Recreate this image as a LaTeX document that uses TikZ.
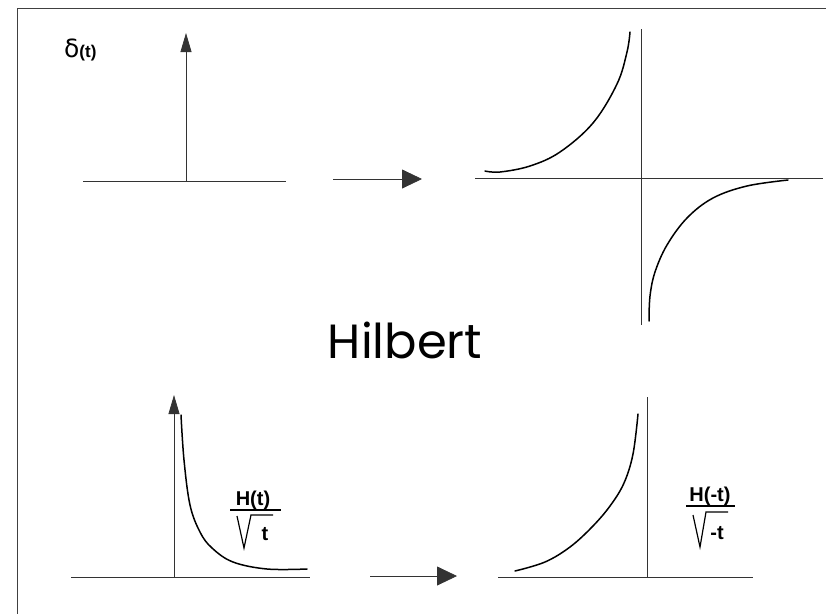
\documentclass[tikz,border=0pt]{standalone}
\usepackage{fontspec}
\setmainfont{Liberation Sans}
\newfontfamily\titlefont{Poppins}
\newfontfamily\greekfont{DejaVu Sans}
\usetikzlibrary{arrows.meta}
\tikzset{
  axisline/.style={draw=black!80, line width=0.8pt},
  curveline/.style={draw=black, line width=1.5pt, line cap=round},
  framelin/.style={draw=black!75, line width=0.9pt},
  uparrow/.style={axisline, -{Triangle[length=19pt,width=11pt]}},
  maparrow/.style={axisline, -{Triangle[length=20pt,width=19pt]}},
  lbl/.style={font=\bfseries\fontsize{20}{22}\selectfont, inner sep=0pt},
  radical/.style={draw=black, line width=1.2pt, line join=miter},
}
\begin{document}
\begin{tikzpicture}[x=1pt,y=-1pt]
\useasboundingbox (0,0) rectangle (826,614);
% frame
\coordinate (fTL) at (17,8);
\coordinate (fTR) at (826,8);
\coordinate (fBL) at (17,614);
\draw[framelin] (fTR) -- (fTL) -- (fBL);

% ---------- top left: delta ----------
\coordinate (d0) at (83,181);
\coordinate (d1) at (286,181);
\coordinate (dA) at (186,181);
\coordinate (dT) at (186,33);
\draw[axisline] (d0) -- (d1);
\draw[uparrow] (dA) -- (dT);
\node[anchor=base west, inner sep=0pt] (dlab) at (64,57)
  {{\greekfont\fontsize{25}{26}\selectfont δ}{\bfseries\fontsize{17}{18}\selectfont (t)}};

% ---------- top arrow ----------
\coordinate (m0) at (333,179);
\coordinate (m1) at (422,179);
\draw[maparrow] (m0) -- (m1);

% ---------- top right: 1/t ----------
\coordinate (h0) at (475,178);
\coordinate (h1) at (823,178);
\coordinate (v0) at (641,29);
\coordinate (v1) at (641,325);
\draw[axisline] (h0) -- (h1);
\draw[axisline] (v0) -- (v1);
\draw[curveline] plot[smooth, tension=0.6] coordinates
  {(485,171) (500,172) (530,166) (560,152) (593,123) (617,84) (627,52) (630,32)};
\draw[curveline] plot[smooth, tension=0.6] coordinates
  {(649,321) (650,296) (655,272) (667,245) (687,218) (713,198) (747,186) (788,180)};

% ---------- title ----------
\node[font=\titlefont\fontsize{48}{50}\selectfont, inner sep=0pt] (title) at (405,340) {Hilbert};

% ---------- bottom left: H(t)/sqrt(t) ----------
\coordinate (b0) at (71,577);
\coordinate (b1) at (310,577);
\coordinate (bA) at (174,577);
\coordinate (bT) at (174,395);
\draw[axisline] (b0) -- (b1);
\draw[uparrow] (bA) -- (bT);
\draw[curveline] plot[smooth, tension=0.6] coordinates
  {(181,415) (184,460) (190,505) (200,532) (212,548) (233,562) (267,569) (307,569)};
\node[lbl, anchor=base] (numL) at (253,505) {H(t)};
\coordinate (barL0) at (230,510);
\coordinate (barL1) at (281,510);
\draw[radical] (barL0) -- (barL1);
\coordinate (rL0) at (237,516);
\coordinate (rL1) at (244,548);
\coordinate (rL2) at (251,515);
\coordinate (rL3) at (273,515);
\draw[radical] (rL0) -- (rL1) -- (rL2) -- (rL3);
\node[lbl, anchor=base] (denL) at (265,540) {t};

% ---------- bottom arrow ----------
\coordinate (n0) at (370,576);
\coordinate (n1) at (457,576);
\draw[maparrow] (n0) -- (n1);

% ---------- bottom right: H(-t)/sqrt(-t) ----------
\coordinate (c0) at (498,577);
\coordinate (c1) at (753,577);
\coordinate (w0) at (647,397);
\coordinate (w1) at (647,577);
\draw[axisline] (c0) -- (c1);
\draw[axisline] (w0) -- (w1);
\draw[curveline] plot[smooth, tension=0.6] coordinates
  {(515,571) (545,562) (570,547) (592,527) (610,506) (624,483) (633,454) (638,414)};
\node[lbl, anchor=base] (numR) at (710,501) {H(-t)};
\coordinate (barR0) at (686,506);
\coordinate (barR1) at (735,506);
\draw[radical] (barR0) -- (barR1);
\coordinate (rR0) at (693,515);
\coordinate (rR1) at (700,547);
\coordinate (rR2) at (706,512);
\coordinate (rR3) at (728,512);
\draw[radical] (rR0) -- (rR1) -- (rR2) -- (rR3);
\node[lbl, anchor=base] (denR) at (717,539) {-t};
\end{tikzpicture}
\end{document}
